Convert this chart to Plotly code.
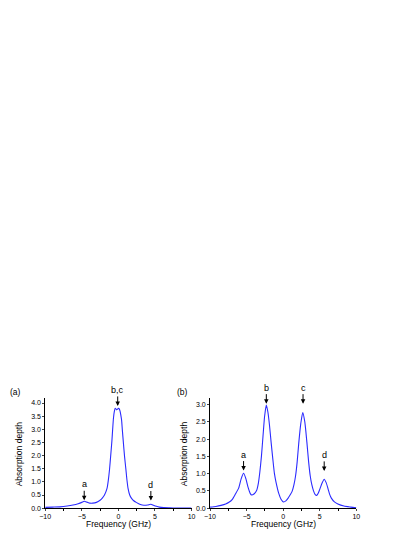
import plotly.graph_objects as go

# panel (a): absorption depth vs frequency
freq_a = [-10, -9, -8, -7, -6.2, -5.5, -5, -4.67, -4.3, -3.9, -3.5, -3, -2.5, -2.2,
          -1.9, -1.56, -1.38, -1.2, -1.05, -0.89, -0.78, -0.67, -0.55, -0.44, -0.33,
          -0.22, -0.1, 0.0, 0.1, 0.22, 0.33, 0.44, 0.55, 0.67, 0.85, 1.02, 1.18, 1.33,
          1.55, 1.78, 2.1, 2.44, 3.0, 3.5, 4.0, 4.44, 4.8, 5.2, 5.6, 6.2, 7, 8, 9, 10]
depth_a = [0.03, 0.04, 0.05, 0.08, 0.12, 0.17, 0.22, 0.26, 0.23, 0.19, 0.19, 0.22, 0.3, 0.38,
           0.5, 0.74, 1.05, 1.5, 2.0, 2.54, 3.0, 3.43, 3.68, 3.8, 3.78,
           3.74, 3.77, 3.8, 3.79, 3.7, 3.55, 3.35, 2.95, 2.54, 1.95, 1.5, 1.05, 0.74,
           0.5, 0.38, 0.28, 0.22, 0.14, 0.11, 0.12, 0.15, 0.11, 0.07, 0.04, 0.02, 0.01, 0.0, 0.0, 0.0]

# panel (b)
freq_b = [-10, -9.2, -8.5, -7.87, -7.42, -6.98, -6.53, -6.09, -5.75, -5.42, -5.1, -4.8,
          -4.5, -4.31, -4.0, -3.64, -3.4, -3.2, -2.98, -2.76, -2.55, -2.31, -2.09, -1.87,
          -1.65, -1.42, -1.2, -0.98, -0.6, -0.3, 0.04, 0.36, 0.7, 1.0, 1.24, 1.47, 1.69,
          1.91, 2.13, 2.4, 2.67, 2.95, 3.24, 3.47, 3.69, 3.91, 4.13, 4.35, 4.58, 4.8,
          5.02, 5.3, 5.6, 5.87, 6.13, 6.35, 6.58, 7.0, 7.47, 8.3, 9.24, 10]
depth_b = [0.03, 0.05, 0.08, 0.12, 0.17, 0.25, 0.41, 0.58, 0.85, 1.01, 0.85, 0.6,
           0.42, 0.38, 0.41, 0.51, 0.72, 1.04, 1.5, 2.1, 2.65, 2.99, 2.78, 2.39,
           1.9, 1.42, 1.0, 0.75, 0.42, 0.26, 0.18, 0.21, 0.3, 0.4, 0.5, 0.68, 0.94,
           1.35, 1.9, 2.45, 2.77, 2.5, 1.9, 1.35, 0.94, 0.68, 0.51, 0.4, 0.37, 0.44,
           0.56, 0.72, 0.84, 0.74, 0.56, 0.4, 0.29, 0.18, 0.12, 0.06, 0.03, 0.01]

# peak markers: label, frequency, arrow tip height
marks_a = [("a", -4.67, 0.30), ("b,c", -0.09, 3.89), ("d", 4.44, 0.29)]
marks_b = [("a", -5.42, 1.09), ("b", -2.31, 3.03), ("c", 2.71, 3.03), ("d", 5.6, 1.08)]

# the page body has an 8px margin, so the figure div starts at (8, 8) of the window
OFF = 8
W, H = 415 - OFF, 537 - OFF
FONT = "Arial, Liberation Sans, sans-serif"
BLUE = "#2b2bff"


def px_x(px):
    return (px - OFF) / W


def px_y(py):
    return (537 - py) / H


fig = go.Figure()
fig.add_trace(go.Scatter(x=freq_a, y=depth_a, mode="lines", xaxis="x", yaxis="y",
                         line=dict(color=BLUE, width=1.1, shape="spline", smoothing=0.6)))
fig.add_trace(go.Scatter(x=freq_b, y=depth_b, mode="lines", xaxis="x2", yaxis="y2",
                         line=dict(color=BLUE, width=1.1, shape="spline", smoothing=0.6)))

ydom = [px_y(511), px_y(400)]
xax = dict(range=[-10, 10], dtick=5, ticks="outside", ticklen=2, tickwidth=0.8,
           showline=True, linecolor="black", linewidth=0.8, showgrid=False, zeroline=False,
           tickfont=dict(size=7, family=FONT, color="black"),
           minor=dict(dtick=2.5, ticks="outside", ticklen=2, tickwidth=0.8, tickcolor="black"))
yax = dict(dtick=0.5, tickformat=".1f", ticks="outside", ticklen=2, tickwidth=0.8,
           showline=True, linecolor="black", linewidth=0.8, showgrid=False, zeroline=False,
           tickfont=dict(size=7, family=FONT, color="black"), domain=ydom)

fig.update_layout(
    width=W, height=H,
    margin=dict(l=0, r=0, t=0, b=0),
    plot_bgcolor="white", paper_bgcolor="white",
    showlegend=False,
    xaxis=dict(xax, domain=[px_x(40), px_x(190)], anchor="y"),
    yaxis=dict(yax, range=[0, 4.2], anchor="x"),
    xaxis2=dict(xax, domain=[px_x(209), px_x(359)], anchor="y2"),
    yaxis2=dict(yax, range=[0, 3.2], anchor="x2"),
)

annotations = []
for xr, yr, marks in [("x", "y", marks_a), ("x2", "y2", marks_b)]:
    for label, fx, tip in marks:
        annotations.append(dict(x=fx, y=tip, xref=xr, yref=yr, text=label,
                                showarrow=True, ax=0, ay=-16, arrowhead=2, arrowsize=0.9,
                                arrowwidth=1, arrowcolor="black",
                                font=dict(size=9, family=FONT, color="black")))

texts = [
    (10, 394, "(a)", 0), (180.5, 394, "(b)", 0),
    (115, 527, "Frequency (GHz)", 0), (284, 527, "Frequency (GHz)", 0),
    (14, 456, "Absorption depth", -90), (183, 456, "Absorption depth", -90),
]
for px, py, txt, ang in texts:
    annotations.append(dict(x=px_x(px), y=px_y(py), xref="paper", yref="paper",
                            text=txt, showarrow=False, textangle=ang,
                            xanchor="center", yanchor="middle", borderpad=0,
                            font=dict(size=8.5, family=FONT, color="black")))

fig.update_layout(annotations=annotations)
fig.write_html("out.html")
